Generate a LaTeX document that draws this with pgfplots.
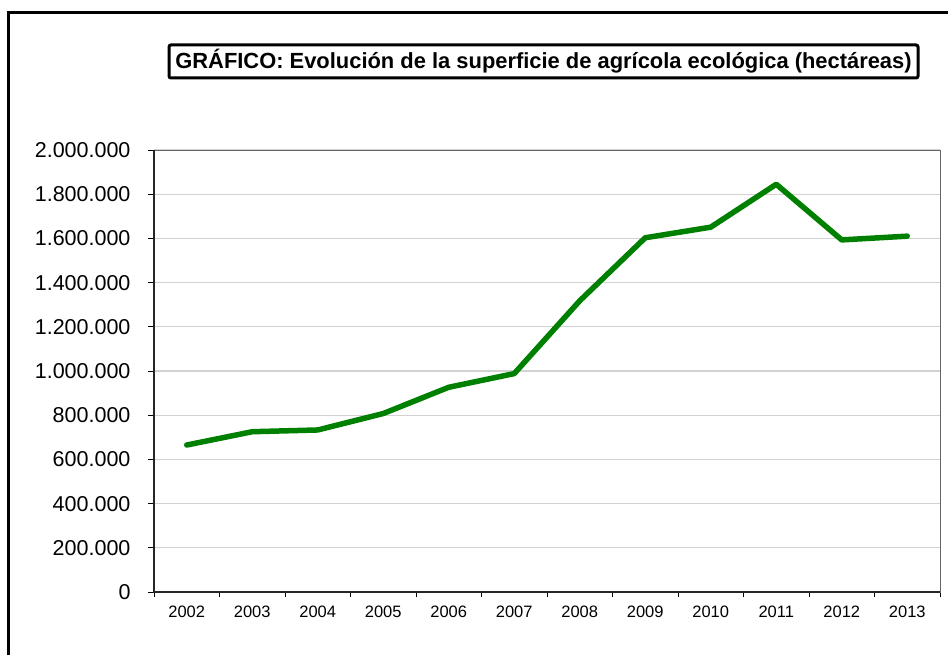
\documentclass[border=0pt]{standalone}
\usepackage{pgfplots}
\pgfplotsset{compat=1.18}
\usepackage{fontspec}
\setmainfont{Liberation Sans}
\definecolor{linegreen}{RGB}{0,128,0}
\definecolor{gridgray}{RGB}{210,210,210}
\begin{document}
\begin{tikzpicture}
% outer frame, cut at right and bottom like the source
\draw[line width=3.5pt] (8.5pt,-10pt) -- (8.5pt,641.5pt) -- (970pt,641.5pt);
\node[draw, line width=3pt, rounded corners=2pt, minimum width=749pt, minimum height=33pt,
      inner sep=0pt, font=\fontsize{21.9}{24}\selectfont\bfseries]
  at (543.5pt,592.5pt) {GRÁFICO: Evolución de la superficie de agrícola ecológica (hectáreas)};
\begin{axis}[
    at={(154pt,62pt)}, anchor=south west,
    scale only axis,
    width=786pt, height=442pt,
    xmin=-0.5, xmax=11.5,
    ymin=0, ymax=2000000,
    xtick={0,...,11},
    xticklabels={2002,2003,2004,2005,2006,2007,2008,2009,2010,2011,2012,2013},
    minor xtick={-0.5,0.5,...,11.5},
    ytick={0,200000,...,2000000},
    xtick pos=bottom, ytick pos=left,
    scaled y ticks=false,
    /pgf/number format/fixed,
    /pgf/number format/1000 sep={.},
    /pgf/number format/assume math mode=true,
    yticklabel style={font=\fontsize{21.5}{24}\selectfont, xshift=-14pt},
    xticklabel style={font=\fontsize{16.5}{19}\selectfont, yshift=-4pt},
    tick align=outside,
    major tick length=6pt,
    minor tick length=5pt,
    x tick style={draw=none},
    minor x tick style={draw=black, line width=0.8pt},
    y tick style={black, line width=0.8pt},
    ymajorgrids,
    major grid style={gridgray, line width=1.2pt},
    axis line style={black!60, line width=0.9pt},
    clip=false,
]
\addplot[linegreen, line width=5.5pt, line join=round, line cap=round] coordinates {
  (0,665055) (1,725254) (2,733182) (3,807569) (4,926390) (5,988323)
  (6,1317752) (7,1602868) (8,1650866) (9,1845039) (10,1593197) (11,1610129)
};
\draw[black!85, line width=1.6pt] (axis cs:-0.5,2000000) -- (axis cs:-0.5,0) -- (axis cs:11.5,0);
\end{axis}
\pgfresetboundingbox
\path (0,0) rectangle (948pt,654pt);
\end{tikzpicture}
\end{document}
